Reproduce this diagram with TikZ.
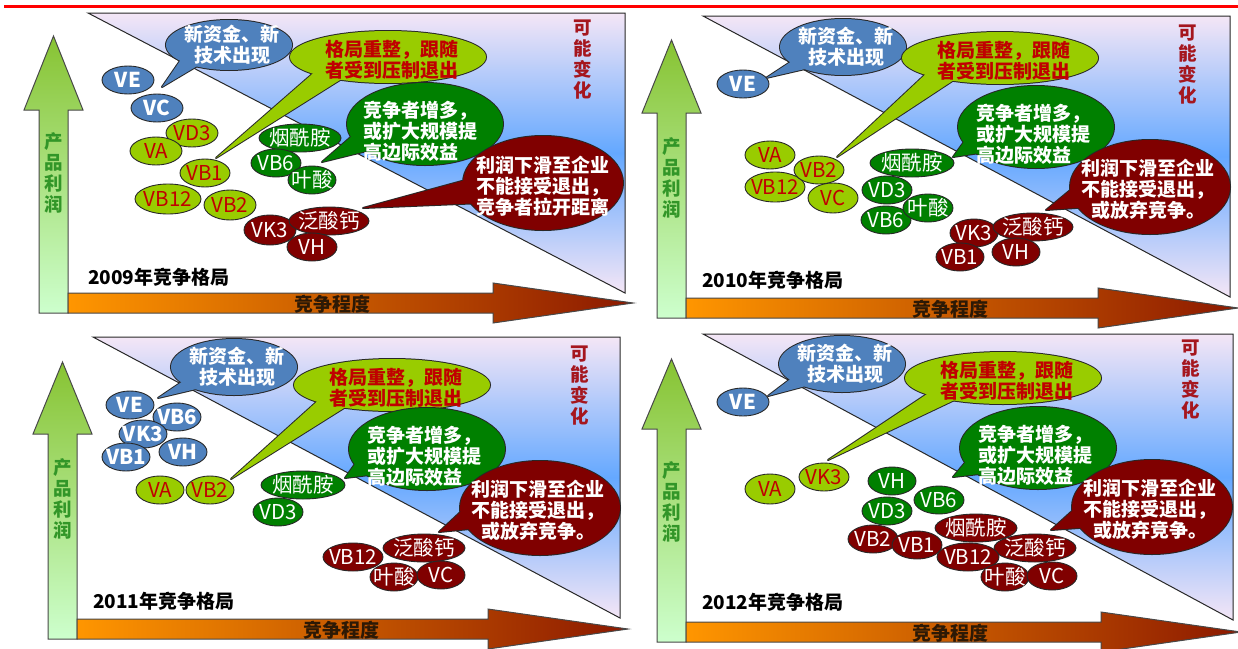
\documentclass[tikz,border=0pt]{standalone}
\usepackage{fontspec}
\setmainfont{Noto Sans CJK SC}
\usetikzlibrary{calc}
\definecolor{outl}{RGB}{40,40,40}
\definecolor{ebl}{RGB}{79,129,189}
\definecolor{elime}{RGB}{153,204,0}
\definecolor{egreen}{RGB}{0,128,0}
\definecolor{ered}{RGB}{128,0,0}
\definecolor{tred}{RGB}{192,0,0}
\definecolor{kn}{RGB}{165,22,30}
\definecolor{lav}{RGB}{244,230,246}
\definecolor{skyb}{RGB}{100,168,255}
\definecolor{gtop}{RGB}{135,195,50}
\definecolor{gbot}{RGB}{205,255,205}
\definecolor{oleft}{RGB}{255,150,0}
\definecolor{oright}{RGB}{140,25,0}
\definecolor{ptgreen}{RGB}{50,150,40}
\definecolor{axdark}{RGB}{45,25,5}
\tikzset{
  tri/.style={top color=lav, bottom color=lav, middle color=skyb, draw=outl, line width=1pt},
  garrow/.style={top color=gtop, bottom color=gbot, draw=outl!85, line width=1pt},
  oarrow/.style={left color=oleft, right color=oright, draw=outl!85, line width=1pt},
  vtxt/.style={font=\fontsize{18.5}{21}\selectfont\bfseries, align=center, inner sep=0pt},
  axtxt/.style={font=\fontsize{19}{21}\selectfont\bfseries, text=axdark, inner sep=0pt},
  yrtxt/.style={font=\fontsize{19}{21}\selectfont\bfseries, anchor=west, inner sep=0pt},
  ctxt/.style={font=\fontsize{19}{21}\selectfont\bfseries, align=center, inner sep=0pt},
  ovB/.style={fill=ebl, draw=outl, line width=0.9pt},
  ovL/.style={fill=elime, draw=outl, line width=0.9pt},
  ovG/.style={fill=egreen, draw=outl, line width=0.9pt},
  ovR/.style={fill=ered, draw=outl, line width=0.9pt},
  ovBtxt/.style={text=white, font=\fontsize{20.5}{21}\selectfont\bfseries, inner sep=0pt},
  ovLtxt/.style={text=tred, font=\fontsize{20.5}{21}\selectfont, inner sep=0pt},
  ovGtxt/.style={text=white, font=\fontsize{20.5}{21}\selectfont, inner sep=0pt},
  ovRtxt/.style={text=white, font=\fontsize{20.5}{21}\selectfont, inner sep=0pt},
}
% #1 prefix, #2 shaft left x, #3 green tip y, #4 head base y, #5 bottom y,
% #6 triangle left x, #7 triangle top y, #8 triangle right x, #9 triangle bottom y
\newcommand{\drawpanel}[9]{%
  \shadedraw[tri] (#6,#7) -- (#8,#7) -- (#8,#9) -- cycle;
  \shadedraw[garrow] (#2,#5) -- (#2,#4) -- ({#2-15},#4) -- ({#2+14.5},#3) -- ({#2+44},#4) -- ({#2+29},#4) -- ({#2+29},#5) -- cycle;
  \shadedraw[oarrow] ({#2+29},{#5-20}) -- ({#8-132},{#5-20}) -- ({#8-132},{#5-30}) -- ({#8+8},{#5-10}) -- ({#8-132},{#5+10}) -- ({#8-132},#5) -- ({#2+29},#5) -- cycle;
  \node[vtxt, text=ptgreen] (#1y) at ({#2+14.5},{#5-140}) {产\\品\\利\\润};
  \node[axtxt] (#1x) at ({#2+293},{#5-9}) {竞争程度};
}
% #1 centre, #2 rx, #3 ry, #4 tip, #5 base offset 1, #6 base offset 2, #7 colour
\newcommand{\callout}[7]{%
  \draw[line width=2pt, draw=outl] #1 ellipse [x radius=#2, y radius=#3];
  \draw[line width=2pt, draw=outl, line join=round] #4 -- ($#1+#5$) -- ($#1+#6$) -- cycle;
  \fill[#7] #1 ellipse [x radius=#2, y radius=#3];
  \fill[#7] #4 -- ($#1+#5$) -- ($#1+#6$) -- cycle;
}
% #1 name, #2 centre, #3 rx, #4 ry, #5 kind, #6 text
\newcommand{\pill}[6]{%
  \draw[#5] #2 ellipse [x radius=#3, y radius=#4];
  \node[#5txt] (#1) at #2 {#6};
}
\begin{document}
\begin{tikzpicture}[x=1pt,y=-1pt]
\useasboundingbox (0,0) rectangle (1238,648);
\fill[white] (0,0) rectangle (1238,648);
\draw[red, line width=3pt] (4,6.5) -- (1238,6.5);

% ---------------- Panel 1 ----------------
\drawpanel{pa}{39}{36}{110}{313}{88}{13}{625}{293}
\node[yrtxt] (pat) at (88,277) {2009年竞争格局};
\begin{scope}[shift={(88,13)}]
  \callout{(141,32)}{63}{25}{(74,74)}{(-45,10)}{(-25,17)}{ebl}
  \node[ctxt,text=white] (pac1) at (144,32) {新资金、新\\技术出现};
  \callout{(300,44)}{98}{26}{(128,145)}{(-70,12)}{(-40,18)}{elime}
  \node[ctxt,text=tred] (pac2) at (304,47) {格局重整，跟随\\者受到压制退出};
  \callout{(337,111)}{78}{41}{(234,149)}{(-65,5)}{(-50,25)}{egreen}
  \node[ctxt,text=white,align=left,anchor=west] (pac3) at (275,118) {竞争者增多，\\或扩大规模提\\高边际效益};
  \callout{(455,170)}{80}{47}{(275,195)}{(-70,-5)}{(-60,20)}{ered}
  \node[ctxt,text=white] (pac4) at (455,173) {利润下滑至企业\\不能接受退出，\\竞争者拉开距离};
  \node[vtxt,text=kn] (pak) at (495,47) {可\\能\\变\\化};
\end{scope}
\pill{paVE}{(128,80)}{26}{14}{ovB}{VE}
\pill{paVC}{(157,108)}{26}{14}{ovB}{VC}
\pill{paVD3}{(192,133)}{26}{14}{ovL}{VD3}
\pill{paVA}{(156,151)}{26}{14}{ovL}{VA}
\pill{paVB1}{(205,173)}{25}{14}{ovL}{VB1}
\pill{paVB12}{(168,199)}{33}{15}{ovL}{VB12}
\pill{paVB2}{(230,205)}{26}{15}{ovL}{VB2}
\pill{paYX}{(300,138)}{41}{14}{ovG}{烟酰胺}
\pill{paVB6}{(276,163)}{25}{14}{ovG}{VB6}
\pill{paYS}{(312,180)}{24}{14}{ovG}{叶酸}
\pill{paVK3}{(270,230)}{26}{15}{ovR}{VK3}
\pill{paFS}{(329,221)}{40}{14}{ovR}{泛酸钙}
\pill{paVH}{(312,247)}{25}{14}{ovR}{VH}

% ---------------- Panel 2 ----------------
\drawpanel{pb}{657}{40}{113}{318}{703}{16}{1230}{297}
\node[yrtxt] (pbt) at (702,280) {2010年竞争格局};
\begin{scope}[shift={(703,16)}]
  \callout{(140,31)}{63}{28}{(63,62)}{(-45,10)}{(-25,19)}{ebl}
  \node[ctxt,text=white] (pbc1) at (143,31) {新资金、新\\技术出现};
  \callout{(297,42)}{98}{26}{(134,141)}{(-70,12)}{(-40,18)}{elime}
  \node[ctxt,text=tred] (pbc2) at (301,45) {格局重整，跟随\\者受到压制退出};
  \callout{(333,111)}{78}{41}{(250,141)}{(-65,5)}{(-50,25)}{egreen}
  \node[ctxt,text=white,align=left,anchor=west] (pbc3) at (273,118) {竞争者增多，\\或扩大规模提\\高边际效益};
  \callout{(447,171)}{80}{47}{(343,194)}{(-70,-5)}{(-60,20)}{ered}
  \node[ctxt,text=white] (pbc4) at (445,173) {利润下滑至企业\\不能接受退出，\\或放弃竞争。};
  \node[vtxt,text=kn] (pbk) at (485,49) {可\\能\\变\\化};
\end{scope}
\pill{pbVE}{(743,84)}{26}{14}{ovB}{VE}
\pill{pbVA}{(770,155)}{25}{14}{ovL}{VA}
\pill{pbVB12}{(775,187)}{30}{15}{ovL}{VB12}
\pill{pbVB2}{(819,170)}{25}{14}{ovL}{VB2}
\pill{pbVC}{(833,198)}{25}{15}{ovL}{VC}
\pill{pbYX}{(912,163)}{42}{14}{ovG}{烟酰胺}
\pill{pbVD3}{(887,190)}{25}{14}{ovG}{VD3}
\pill{pbVB6}{(886,220)}{25}{14}{ovG}{VB6}
\pill{pbYS}{(928,208)}{25}{14}{ovG}{叶酸}
\pill{pbVK3}{(974,233)}{24}{14}{ovR}{VK3}
\pill{pbFS}{(1033,227)}{40}{14}{ovR}{泛酸钙}
\pill{pbVB1}{(960,257)}{24}{14}{ovR}{VB1}
\pill{pbVH}{(1016,252)}{24}{14}{ovR}{VH}

% ---------------- Panel 3 ----------------
\drawpanel{pc}{48}{362}{434}{639}{93}{337}{620}{618}
\node[yrtxt] (pct) at (93,601) {2011年竞争格局};
\begin{scope}[shift={(93,337)}]
  \callout{(141,30)}{63}{28}{(65,61)}{(-45,10)}{(-25,19)}{ebl}
  \node[ctxt,text=white] (pcc1) at (144,30) {新资金、新\\技术出现};
  \callout{(299,48)}{98}{26}{(138,142)}{(-70,12)}{(-40,18)}{elime}
  \node[ctxt,text=tred] (pcc2) at (303,51) {格局重整，跟随\\者受到压制退出};
  \callout{(334,112)}{78}{41}{(252,141)}{(-65,5)}{(-50,25)}{egreen}
  \node[ctxt,text=white,align=left,anchor=west] (pcc3) at (274,119) {竞争者增多，\\或扩大规模提\\高边际效益};
  \callout{(447,171)}{80}{47}{(346,195)}{(-70,-5)}{(-60,20)}{ered}
  \node[ctxt,text=white] (pcc4) at (445,173) {利润下滑至企业\\不能接受退出，\\或放弃竞争。};
  \node[vtxt,text=kn] (pck) at (487,49) {可\\能\\变\\化};
\end{scope}
\pill{pcVE}{(130,405)}{24}{14}{ovB}{VE}
\pill{pcVB6}{(177,417)}{24}{14}{ovB}{VB6}
\pill{pcVK3}{(143,434)}{24}{14}{ovB}{VK3}
\pill{pcVB1}{(126,457)}{24}{14}{ovB}{VB1}
\pill{pcVH}{(183,452)}{24}{14}{ovB}{VH}
\pill{pcVA}{(160,490)}{24}{14}{ovL}{VA}
\pill{pcVB2}{(210,490)}{24}{14}{ovL}{VB2}
\pill{pcYX}{(303,485)}{42}{14}{ovG}{烟酰胺}
\pill{pcVD3}{(278,512)}{25}{14}{ovG}{VD3}
\pill{pcFS}{(424,548)}{41}{14}{ovR}{泛酸钙}
\pill{pcVB12}{(353,557)}{30}{14}{ovR}{VB12}
\pill{pcYS}{(394,577)}{24}{14}{ovR}{叶酸}
\pill{pcVC}{(441,575)}{24}{14}{ovR}{VC}

% ---------------- Panel 4 ----------------
\drawpanel{pd}{657}{359}{429}{642}{703}{334}{1233}{620}
\node[yrtxt] (pdt) at (702,602) {2012年竞争格局};
\begin{scope}[shift={(703,334)}]
  \callout{(139,30)}{63}{28}{(65,62)}{(-45,10)}{(-25,19)}{ebl}
  \node[ctxt,text=white] (pdc1) at (142,30) {新资金、新\\技术出现};
  \callout{(300,44)}{98}{26}{(125,126)}{(-70,12)}{(-40,18)}{elime}
  \node[ctxt,text=tred] (pdc2) at (304,47) {格局重整，跟随\\者受到压制退出};
  \callout{(335,114)}{78}{41}{(250,143)}{(-65,5)}{(-50,25)}{egreen}
  \node[ctxt,text=white,align=left,anchor=west] (pdc3) at (275,121) {竞争者增多，\\或扩大规模提\\高边际效益};
  \callout{(449,173)}{80}{47}{(348,196)}{(-70,-5)}{(-60,20)}{ered}
  \node[ctxt,text=white] (pdc4) at (447,175) {利润下滑至企业\\不能接受退出，\\或放弃竞争。};
  \node[vtxt,text=kn] (pdk) at (488,46) {可\\能\\变\\化};
\end{scope}
\pill{pdVE}{(743,402)}{26}{14}{ovB}{VE}
\pill{pdVA}{(770,489)}{25}{15}{ovL}{VA}
\pill{pdVK3}{(824,477)}{25}{14}{ovL}{VK3}
\pill{pdVH}{(892,481)}{24}{14}{ovG}{VH}
\pill{pdVD3}{(887,511)}{25}{14}{ovG}{VD3}
\pill{pdVB6}{(939,500)}{25}{14}{ovG}{VB6}
\pill{pdVB2}{(873,539)}{25}{14}{ovR}{VB2}
\pill{pdVB1}{(917,545)}{25}{14}{ovR}{VB1}
\pill{pdYX}{(976,528)}{41}{14}{ovR}{烟酰胺}
\pill{pdFS}{(1035,548)}{41}{14}{ovR}{泛酸钙}
\pill{pdVB12}{(968,557)}{31}{14}{ovR}{VB12}
\pill{pdYS}{(1005,577)}{24}{14}{ovR}{叶酸}
\pill{pdVC}{(1052,576)}{25}{14}{ovR}{VC}
\end{tikzpicture}
\end{document}
